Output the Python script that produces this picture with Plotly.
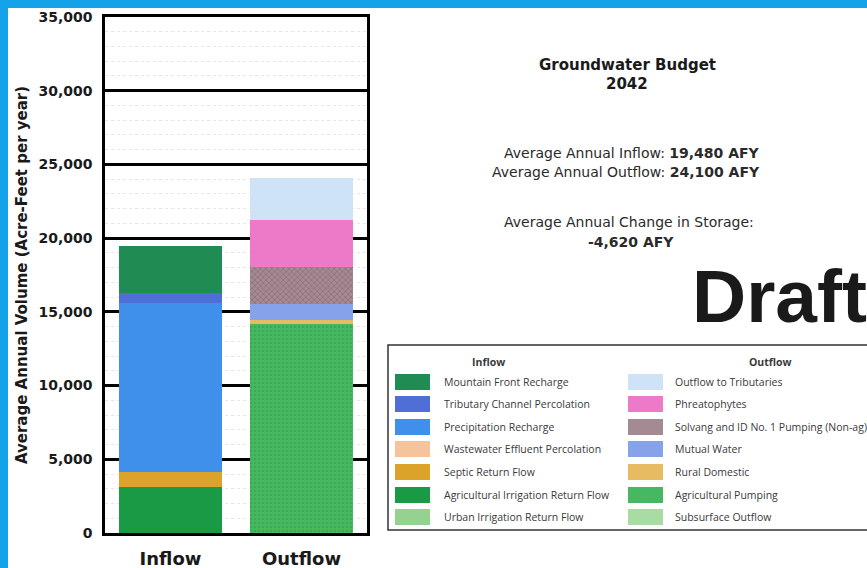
import plotly.graph_objects as go

categories = ["Inflow", "Outflow"]

# stacking order bottom -> top
inflow_names = ["Urban Irrigation Return Flow", "Agricultural Irrigation Return Flow",
                "Septic Return Flow", "Wastewater Effluent Percolation",
                "Precipitation Recharge", "Tributary Channel Percolation",
                "Mountain Front Recharge"]
inflow_values = [0, 3100, 1050, 10, 11450, 680, 3190]
inflow_colors = ["#95d28f", "#1b9a46", "#dba32a", "#f5c39c", "#3f90ea", "#4f6fd6", "#1f8c53"]

outflow_names = ["Subsurface Outflow", "Agricultural Pumping", "Rural Domestic",
                 "Mutual Water", "Solvang and ID No. 1 Pumping (Non-ag)",
                 "Phreatophytes", "Outflow to Tributaries"]
outflow_values = [0, 14150, 300, 1100, 2480, 3170, 2900]
outflow_colors = ["#a9dca2", "#46b862", "#e6bb62", "#86a2e8", "#a48a92", "#ec7ac8", "#cfe3f6"]
outflow_patterns = ["", ".", "", "", "x", "", ""]
outflow_pattern_fg = ["", "#2f9c4c", "", "", "#6a4c5a", "", ""]

y_ticks = [0, 5000, 10000, 15000, 20000, 25000, 30000, 35000]

W, H = 867, 568
def px(x):
    return x / W
def py(y):
    return 1 - y / H

fig = go.Figure()
for name, val, col in zip(inflow_names, inflow_values, inflow_colors):
    fig.add_trace(go.Bar(x=[categories[0]], y=[val], name=name,
                         marker=dict(color=col, line=dict(width=0)), showlegend=False))
for name, val, col, pat, fg in zip(outflow_names, outflow_values, outflow_colors,
                                   outflow_patterns, outflow_pattern_fg):
    m = dict(color=col, line=dict(width=0))
    if pat:
        m["pattern"] = dict(shape=pat, fgcolor=fg, size=4, solidity=0.3)
    fig.add_trace(go.Bar(x=[categories[1]], y=[val], name=name, marker=m, showlegend=False))

fig.update_layout(
    width=W, height=H, barmode="stack", bargap=0.21,
    margin=dict(l=0, r=0, t=0, b=0),
    paper_bgcolor="white", plot_bgcolor="white",
    showlegend=False,
    font=dict(family="DejaVu Sans", color="#1a1a1a"),
)
fig.update_xaxes(
    domain=[px(105), px(367)], automargin=False,
    showline=True, mirror=True, linecolor="black", linewidth=2.5,
    showgrid=False, ticks="", ticklabelstandoff=8,
    tickfont=dict(family="DejaVu Sans", size=18, color="#1a1a1a", weight="bold"),
)
fig.update_yaxes(
    domain=[py(533), py(17)], automargin=False,
    range=[0, 35000], tickvals=y_ticks, tickformat=",",
    showline=True, mirror=True, linecolor="black", linewidth=2.5,
    showgrid=True, gridcolor="black", gridwidth=2.5,
    minor=dict(dtick=1000, showgrid=True, gridcolor="#e6e6e6", griddash="dot", gridwidth=1),
    zeroline=False, ticks="", ticklabelstandoff=7,
    tickfont=dict(family="DejaVu Sans", size=14, color="#1a1a1a", weight="bold"),
    title=dict(text="Average Annual Volume (Acre-Feet per year)", standoff=8,
               font=dict(family="DejaVu Sans", size=15, color="#1a1a1a", weight="bold")),
)

shapes = []
# blue frame strips
shapes.append(dict(type="rect", xref="paper", yref="paper", x0=0, x1=px(8), y0=0, y1=1,
                   fillcolor="#14a2e8", line=dict(width=0), layer="above"))
shapes.append(dict(type="rect", xref="paper", yref="paper", x0=0, x1=1, y0=py(8), y1=1,
                   fillcolor="#14a2e8", line=dict(width=0), layer="above"))
# legend box
shapes.append(dict(type="rect", xref="paper", yref="paper", x0=px(388), x1=px(890),
                   y0=py(530), y1=py(345), line=dict(color="#333333", width=1.5)))

annotations = []
txt_font = dict(family="DejaVu Sans", size=14, color="#2a2a2a")
annotations.append(dict(x=px(627), y=py(65), xref="paper", yref="paper", showarrow=False,
                        text="<b>Groundwater Budget</b>", font=dict(family="DejaVu Sans", size=15, color="#1a1a1a"),
                        xanchor="center", yanchor="middle"))
annotations.append(dict(x=px(627), y=py(84), xref="paper", yref="paper", showarrow=False,
                        text="<b>2042</b>", font=dict(family="DejaVu Sans", size=15, color="#1a1a1a"),
                        xanchor="center", yanchor="middle"))
total_in = sum(inflow_values)
total_out = sum(outflow_values)
change = total_in - total_out
annotations.append(dict(x=px(762), y=py(153), xref="paper", yref="paper", showarrow=False,
                        text=f"Average Annual Inflow: <b>{total_in:,} AFY</b>", font=txt_font,
                        xanchor="right", yanchor="middle"))
annotations.append(dict(x=px(762), y=py(172), xref="paper", yref="paper", showarrow=False,
                        text=f"Average Annual Outflow: <b>{total_out:,} AFY</b>", font=txt_font,
                        xanchor="right", yanchor="middle"))
annotations.append(dict(x=px(629), y=py(222), xref="paper", yref="paper", showarrow=False,
                        text="Average Annual Change in Storage:", font=txt_font,
                        xanchor="center", yanchor="middle"))
annotations.append(dict(x=px(631), y=py(242), xref="paper", yref="paper", showarrow=False,
                        text=f"<b>{change:,} AFY</b>", font=txt_font,
                        xanchor="center", yanchor="middle"))
annotations.append(dict(x=px(690), y=py(296), xref="paper", yref="paper", showarrow=False,
                        text="<b>Draft</b>", font=dict(family="Liberation Sans", size=75, color="#1a1a1a"),
                        xanchor="left", yanchor="middle"))

# legend
leg_font = dict(family="Open Sans", size=10.5, color="#3a3a3a")
annotations.append(dict(x=px(488), y=py(362), xref="paper", yref="paper", showarrow=False,
                        text="<b>Inflow</b>", font=leg_font, xanchor="center", yanchor="middle"))
annotations.append(dict(x=px(770), y=py(362), xref="paper", yref="paper", showarrow=False,
                        text="<b>Outflow</b>", font=leg_font, xanchor="center", yanchor="middle"))
row_y = [382, 404, 427, 449, 472, 495, 517]
for col_names, col_colors, sx, tx in [
        (inflow_names[::-1], inflow_colors[::-1], 395, 442),
        (outflow_names[::-1], outflow_colors[::-1], 628, 673)]:
    for ry, nm, cc in zip(row_y, col_names, col_colors):
        shapes.append(dict(type="rect", xref="paper", yref="paper", x0=px(sx), x1=px(sx + 35),
                           y0=py(ry + 8), y1=py(ry - 8), fillcolor=cc, line=dict(width=0)))
        annotations.append(dict(x=px(tx), y=py(ry), xref="paper", yref="paper", showarrow=False,
                                text=nm, font=leg_font, xanchor="left", yanchor="middle"))

fig.update_layout(shapes=shapes, annotations=annotations)
fig.write_html("out.html", config={"displayModeBar": False},
               post_script="document.body.style.margin='0';document.body.style.overflow='hidden';")
